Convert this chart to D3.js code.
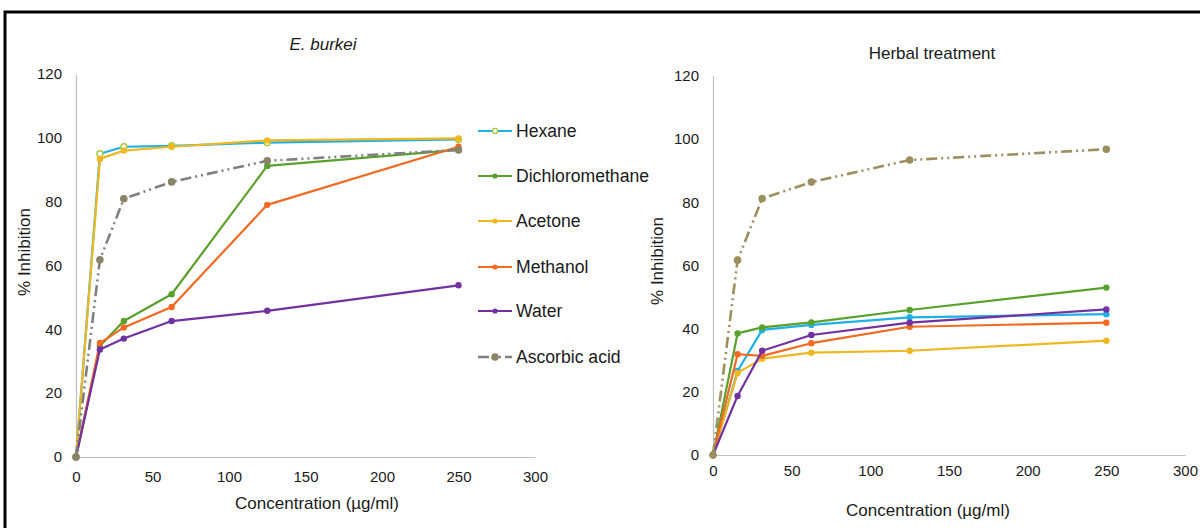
<!DOCTYPE html>
<html>
<head>
<meta charset="utf-8">
<script src="https://cdn.jsdelivr.net/npm/d3@7"></script>
<style>
  html, body { margin: 0; padding: 0; background: #fff; }
  svg { display: block; font-family: "Liberation Sans", Arial, sans-serif; }
</style>
</head>
<body>
<svg id="chart" width="1200" height="528"></svg>
<script>
// Concentrations tested (µg/ml)
const concentrations = [0, 15.625, 31.25, 62.5, 125, 250];

// Series names, in legend order
const seriesNames = ["Hexane", "Dichloromethane", "Acetone", "Methanol", "Water", "Ascorbic acid"];

// E. burkei extracts, % inhibition
const burkeiHexane    = [0, 95.0, 97.2, 97.5, 98.5, 99.5];
const burkeiDCM       = [0, 34.8, 42.6, 51.0, 91.2, 96.2];
const burkeiAcetone   = [0, 93.4, 96.0, 97.2, 99.2, 99.8];
const burkeiMethanol  = [0, 35.7, 40.6, 47.0, 79.0, 97.2];
const burkeiWater     = [0, 33.7, 37.1, 42.6, 45.8, 53.8];
const burkeiAscorbic  = [0, 61.8, 80.9, 86.2, 92.8, 96.2];

// Herbal treatment extracts, % inhibition
const herbalHexane    = [0, 26.6, 39.6, 41.2, 43.6, 44.6];
const herbalDCM       = [0, 38.5, 40.4, 42.0, 45.9, 53.0];
const herbalAcetone   = [0, 26.0, 30.5, 32.4, 33.0, 36.2];
const herbalMethanol  = [0, 31.9, 31.4, 35.4, 40.6, 41.9];
const herbalWater     = [0, 18.7, 33.0, 38.0, 41.9, 46.1];
const herbalAscorbic  = [0, 61.7, 81.2, 86.4, 93.4, 96.8];

// Axis ticks
const xTicks = [0, 50, 100, 150, 200, 250, 300];
const yTicks = [0, 20, 40, 60, 80, 100, 120];

const svg = d3.select("#chart");

// outer frame
svg.append("path")
  .attr("d", "M5,530 L5,12 L1202,12")
  .attr("fill", "none")
  .attr("stroke", "#000")
  .attr("stroke-width", 3);

const colors = {
  "Hexane": "#1FB0E6",
  "Dichloromethane": "#5AA02C",
  "Acetone": "#EDB821",
  "Methanol": "#F26A21",
  "Water": "#7131A1",
  "Ascorbic acid": "#808080"
};
const dashAsc = "11,4,2,4,2,4";

function drawPanel(opts) {
  const x = d3.scaleLinear().domain([0, 300]).range(opts.xRange);
  const y = d3.scaleLinear().domain([0, 120]).range(opts.yRange);
  const g = svg.append("g");

  // axes
  const ya = g.append("g")
    .attr("transform", `translate(${opts.xRange[0]},0)`)
    .call(d3.axisLeft(y).tickValues(yTicks).tickSize(0).tickPadding(14));
  const xa = g.append("g")
    .attr("transform", `translate(0,${opts.yRange[0]})`)
    .call(d3.axisBottom(x).tickValues(xTicks).tickSize(0).tickPadding(opts.xPad));
  [ya, xa].forEach(a => {
    a.select(".domain").attr("stroke", "#BFBFBF").attr("stroke-width", 1.2);
    a.selectAll("text").attr("font-size", 15).attr("fill", "#1a1a1a")
      .attr("font-family", '"Liberation Sans", Arial, sans-serif');
  });

  // series
  const line = d3.line().x((d, i) => x(concentrations[i])).y(d => y(d));
  opts.series.forEach((vals, k) => {
    const name = seriesNames[k];
    const isAsc = name === "Ascorbic acid";
    const lineColor = isAsc ? opts.ascLine : colors[name];
    const markColor = isAsc ? opts.ascMark : colors[name];
    g.append("path")
      .datum(vals)
      .attr("d", line)
      .attr("fill", "none")
      .attr("stroke", lineColor)
      .attr("stroke-width", isAsc ? 2.6 : 2.2)
      .attr("stroke-linejoin", "round")
      .attr("stroke-dasharray", isAsc ? dashAsc : null);
    const hollow = name === "Hexane" && opts.hollowHexane;
    g.selectAll(null)
      .data(vals)
      .enter().append("circle")
      .attr("cx", (d, i) => x(concentrations[i]))
      .attr("cy", d => y(d))
      .attr("r", isAsc ? 3.8 : (hollow ? 3 : 3.2))
      .attr("fill", hollow ? "#fff" : markColor)
      .attr("stroke", hollow ? "#A6C83A" : "none")
      .attr("stroke-width", hollow ? 1.4 : 0);
  });

  // titles
  g.append("text")
    .attr("x", opts.titlePos[0]).attr("y", opts.titlePos[1])
    .attr("text-anchor", "middle")
    .attr("font-size", 17)
    .attr("font-style", opts.titleItalic ? "italic" : "normal")
    .attr("fill", "#1a1a1a")
    .text(opts.title);
  g.append("text")
    .attr("x", opts.xTitlePos[0]).attr("y", opts.xTitlePos[1])
    .attr("text-anchor", "middle")
    .attr("font-size", 17)
    .attr("fill", "#1a1a1a")
    .text("Concentration (µg/ml)");
  g.append("text")
    .attr("transform", `translate(${opts.yTitlePos[0]},${opts.yTitlePos[1]}) rotate(-90)`)
    .attr("text-anchor", "middle")
    .attr("dy", "0.35em")
    .attr("font-size", 17)
    .attr("fill", "#1a1a1a")
    .text("% Inhibition");
}

drawPanel({
  xRange: [76, 535], yRange: [457, 74], xPad: 14,
  series: [burkeiHexane, burkeiDCM, burkeiAcetone, burkeiMethanol, burkeiWater, burkeiAscorbic],
  ascLine: "#808080", ascMark: "#8A8466",
  hollowHexane: true,
  title: "E. burkei", titleItalic: true, titlePos: [323, 50],
  xTitlePos: [317, 509], yTitlePos: [24, 252]
});

drawPanel({
  xRange: [713, 1185], yRange: [455, 76], xPad: 10,
  series: [herbalHexane, herbalDCM, herbalAcetone, herbalMethanol, herbalWater, herbalAscorbic],
  ascLine: "#9C8F5E", ascMark: "#9C8F5E",
  hollowHexane: false,
  title: "Herbal treatment", titleItalic: false, titlePos: [932, 59],
  xTitlePos: [928, 516], yTitlePos: [657, 261]
});

// legend
const legendY = [131, 176, 221, 267, 311, 357];
const lg = svg.append("g");
seriesNames.forEach((name, i) => {
  const yy = legendY[i];
  const isAsc = name === "Ascorbic acid";
  if (isAsc) {
    lg.append("line").attr("x1", 478).attr("x2", 512).attr("y1", yy).attr("y2", yy)
      .attr("stroke", "#808080").attr("stroke-width", 2.6).attr("stroke-dasharray", dashAsc);
  } else {
    lg.append("line").attr("x1", 478).attr("x2", 512).attr("y1", yy).attr("y2", yy)
      .attr("stroke", colors[name]).attr("stroke-width", 2.2);
  }
  const hollow = name === "Hexane";
  lg.append("circle").attr("cx", 495).attr("cy", yy)
    .attr("r", isAsc ? 3.8 : 2.6)
    .attr("fill", hollow ? "#fff" : (isAsc ? "#8A8466" : colors[name]))
    .attr("stroke", hollow ? "#A6C83A" : "none")
    .attr("stroke-width", hollow ? 1.3 : 0);
  lg.append("text").attr("x", 516).attr("y", yy).attr("dy", "0.35em")
    .attr("font-size", 17.6).attr("fill", "#1a1a1a").text(name);
});
</script>
</body>
</html>
